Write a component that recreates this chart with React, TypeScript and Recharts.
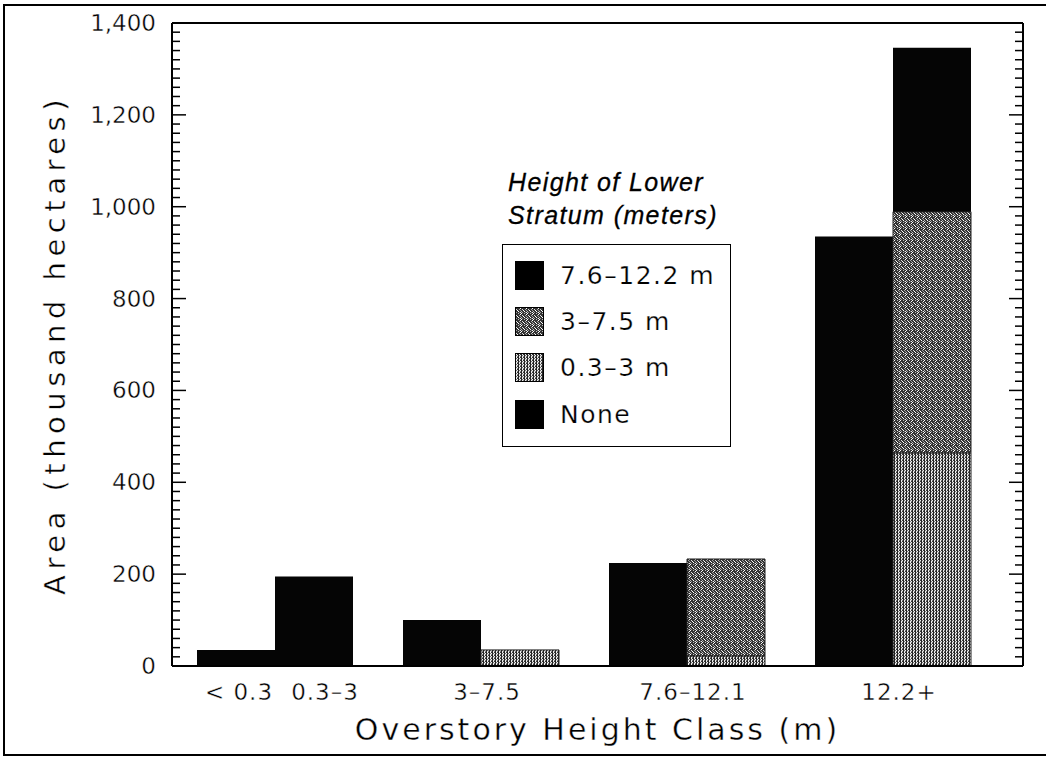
import { BarChart, Bar, XAxis, YAxis, ReferenceLine, Label } from 'recharts'

// overstory height classes and area (thousand hectares) by height of lower stratum
const CATEGORIES = ['< 0.3', '0.3–3', '3–7.5', '7.6–12.1', '12.2+']
const NONE = [35, 195, 100, 224, 935]
const LOWER_03_3 = [0, 0, 35, 22, 464]
const LOWER_3_75 = [0, 0, 0, 211, 525]
const LOWER_76_122 = [0, 0, 0, 0, 357]
const Y_LABELS = [0, 200, 400, 600, 800, 1000, 1200, 1400]

const LEGEND_ITEMS = [
  { label: '7.6–12.2 m', fill: '#000' },
  { label: '3–7.5 m', fill: 'url(#speckle)' },
  { label: '0.3–3 m', fill: 'url(#stipple)' },
  { label: 'None', fill: '#000' },
]

const FONT = '"DejaVu Sans", sans-serif'
const INK = '#000'
// a thin white outline over the glyphs gives the light plotter lettering
const THIN = { stroke: '#fff', strokeWidth: 0.4 }
const MINOR = 7
const MAJOR = 13
const MINOR_STEP = 20
const Y_TICKS = Array.from({ length: Y_LABELS[Y_LABELS.length - 1] / MINOR_STEP + 1 }, (_, i) => i * MINOR_STEP)

// the two shortest classes have no lower stratum, so they share the first slot
const data = [
  { name: `${CATEGORIES[0]}|${CATEGORIES[1]}`, none: NONE[0], noneB: NONE[1], low: 0, mid: 0, high: 0 },
  ...CATEGORIES.slice(2).map((name, i) => ({
    name,
    none: NONE[i + 2],
    noneB: 0,
    low: LOWER_03_3[i + 2],
    mid: LOWER_3_75[i + 2],
    high: LOWER_76_122[i + 2],
  })),
]

// inward tick marks on both vertical axes, drawn at the two ends of a reference line
function TickMarks({ x1, x2, y1, len }: any) {
  const left = Math.min(x1, x2)
  const right = Math.max(x1, x2)
  return (
    <g>
      <path d={`M${left + 1},${y1}h${len}`} stroke="#000" strokeWidth={1.5} fill="none" />
      <path d={`M${right - 1},${y1}h${-len}`} stroke="#000" strokeWidth={1.5} fill="none" />
    </g>
  )
}

function LeftTick({ x, y, payload }: any) {
  if (!Y_LABELS.includes(payload.value)) return <g />
  return (
    <text x={x - 16} y={y} textAnchor="end" dominantBaseline="central" fontFamily={FONT} fontSize={23} fill={INK} {...THIN}>
      {payload.value.toLocaleString('en-US')}
    </text>
  )
}

function XTick({ x, y, payload }: any) {
  const parts = String(payload.value).split('|')
  const offsets = parts.length === 2 ? [-36, 50] : [6]
  return (
    <g>
      {parts.map((p, i) => (
        <text key={p} x={x + offsets[i]} y={y + 34} textAnchor="middle" fontFamily={FONT} fontSize={23} letterSpacing={1} fill={INK} {...THIN}>
          {p}
        </text>
      ))}
    </g>
  )
}

function YTitle({ viewBox }: any) {
  const cx = viewBox.x + 23
  const cy = viewBox.y + viewBox.height / 2
  return (
    <text x={cx} y={cy} transform={`rotate(-90, ${cx}, ${cy})`} textAnchor="middle" dominantBaseline="central"
      fontFamily={FONT} fontSize={29} letterSpacing={5.5} fill={INK} {...THIN}>
      Area (thousand hectares)
    </text>
  )
}

function XTitle({ viewBox }: any) {
  return (
    <text x={viewBox.x + viewBox.width / 2} y={viewBox.y + 74} textAnchor="middle"
      fontFamily={FONT} fontSize={30} letterSpacing={3} fill={INK} {...THIN}>
      Overstory Height Class (m)
    </text>
  )
}

function LegendBox() {
  return (
    <div style={{ position: 'absolute', left: 502, top: 166, fontFamily: FONT, color: INK }}>
      <div style={{ fontFamily: '"Liberation Sans", Arial, sans-serif', fontStyle: 'italic', fontSize: 25, lineHeight: '33px', letterSpacing: 1.4, paddingLeft: 6, WebkitTextStroke: '0.3px #000' }}>
        Height of Lower<br />Stratum (meters)
      </div>
      <div style={{ marginTop: 12, width: 229, border: '1.5px solid #000', background: '#fff', padding: '7px 0 9px 12px', boxSizing: 'border-box' }}>
        {LEGEND_ITEMS.map((it) => (
          <div key={it.label} style={{ display: 'flex', alignItems: 'center', height: 46.3 }}>
            <svg width={29} height={29} style={{ display: 'block' }}>
              <rect x={0.5} y={0.5} width={28} height={28} fill={it.fill} stroke="#000" />
            </svg>
            <span style={{ marginLeft: 16, fontSize: 25, letterSpacing: 1.5, WebkitTextStroke: '0.25px #fff' }}>{it.label}</span>
          </div>
        ))}
      </div>
    </div>
  )
}

export default function App() {
  return (
    <div style={{ position: 'absolute', left: 0, top: 0, width: 1046, height: 758, background: '#fff' }}>
      <BarChart width={1046} height={758} data={data} margin={{ top: 23, right: 22, left: 32, bottom: 52 }}
        barCategoryGap={25} barGap={0}>
        <defs>
          <pattern id="speckle" width={6} height={6} patternUnits="userSpaceOnUse">
            <rect width={6} height={6} fill="#333" />
            <rect x={0} y={0} width={1} height={1} fill="#fff" />
            <rect x={3} y={0} width={1} height={1} fill="#bbb" />
            <rect x={5} y={1} width={1} height={1} fill="#fff" />
            <rect x={1} y={2} width={1} height={1} fill="#ddd" />
            <rect x={4} y={2} width={1} height={1} fill="#aaa" />
            <rect x={2} y={3} width={1} height={1} fill="#fff" />
            <rect x={5} y={3} width={1} height={1} fill="#999" />
            <rect x={0} y={4} width={1} height={1} fill="#bbb" />
            <rect x={3} y={4} width={1} height={1} fill="#fff" />
            <rect x={5} y={5} width={1} height={1} fill="#eee" />
            <rect x={1} y={5} width={1} height={1} fill="#999" />
            <rect x={4} y={5} width={1} height={1} fill="#777" />
          </pattern>
          <pattern id="stipple" width={3} height={3} patternUnits="userSpaceOnUse">
            <rect width={3} height={3} fill="#eee" />
            <rect x={0} y={0} width={1} height={3} fill="#222" />
            <rect x={2} y={1} width={1} height={1} fill="#333" />
            <rect x={1} y={2} width={1} height={1} fill="#777" />
            <rect x={2} y={0} width={1} height={1} fill="#888" />
          </pattern>
        </defs>
        <XAxis dataKey="name" tick={<XTick />} tickLine={false} tickSize={0} tickMargin={0} height={40}
          axisLine={{ stroke: '#000', strokeWidth: 2 }} padding={{ left: 0, right: 27 }} interval={0}>
          <Label content={<XTitle />} />
        </XAxis>
        <YAxis type="number" domain={[0, 1400]} ticks={Y_TICKS} interval={0} width={140} tick={<LeftTick />}
          tickLine={false} tickSize={0} tickMargin={0} axisLine={{ stroke: '#000', strokeWidth: 2 }}>
          <Label content={<YTitle />} />
        </YAxis>
        <YAxis yAxisId="r" orientation="right" type="number" domain={[0, 1400]} width={1}
          tick={false} tickLine={false} axisLine={{ stroke: '#000', strokeWidth: 2 }} />
        <Bar dataKey="none" stackId="a" fill="#050505" isAnimationActive={false} />
        <Bar dataKey="noneB" stackId="b" fill="#050505" isAnimationActive={false} />
        <Bar dataKey="low" stackId="b" fill="url(#stipple)" stroke="#222" strokeWidth={1} isAnimationActive={false} />
        <Bar dataKey="mid" stackId="b" fill="url(#speckle)" stroke="#222" strokeWidth={1} isAnimationActive={false} />
        <Bar dataKey="high" stackId="b" fill="#050505" isAnimationActive={false} />
        <ReferenceLine y={1400} stroke="#000" strokeWidth={2} />
        {Y_TICKS.map((v) => (
          <ReferenceLine key={v} y={v}
            shape={(p: any) => <TickMarks {...p} len={Y_LABELS.includes(v) ? MAJOR : MINOR} />} />
        ))}
      </BarChart>
      <LegendBox />
      <div style={{ position: 'absolute', left: 3, top: 4, width: 1043, height: 748, borderLeft: '2px solid #000', borderTop: '2px solid #000', borderBottom: '2px solid #000', pointerEvents: 'none' }} />
    </div>
  )
}
